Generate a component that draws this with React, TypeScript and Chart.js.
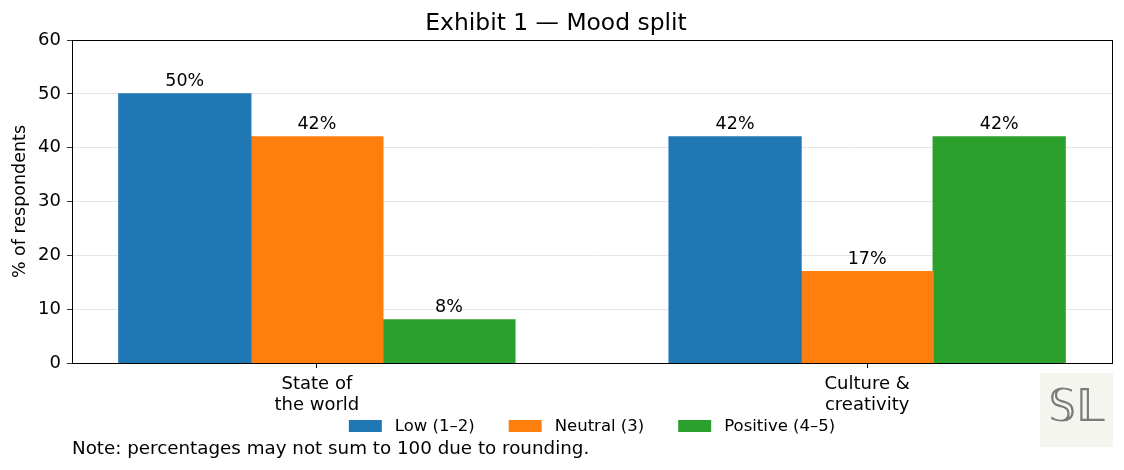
import React, { useEffect, useRef } from "react";
import { Chart, registerables } from "chart.js";

Chart.register(...registerables);

const categories: string[][] = [["State of", "the world"], ["Culture &", "creativity"]];
const seriesNames = ["Low (1–2)", "Neutral (3)", "Positive (4–5)"];
const seriesColors = ["#1f77b4", "#ff7f0e", "#2ca02c"];
const lowValues = [50, 42];
const neutralValues = [42, 17];
const positiveValues = [8, 42];
const yTicks = [0, 10, 20, 30, 40, 50, 60];
const titleText = "Exhibit 1 — Mood split";
const yTitle = "% of respondents";
const noteText = "Note: percentages may not sum to 100 due to rounding.";
const logoText = "𝕊𝕃";

const FONT = "'DejaVu Sans', sans-serif";

const frameAndLabels = {
  id: "frameAndLabels",
  afterDatasetsDraw(chart: any) {
    const ctx = chart.ctx;
    const a = chart.chartArea;
    ctx.save();
    ctx.font = `17.5px ${FONT}`;
    ctx.fillStyle = "#000";
    ctx.textAlign = "center";
    ctx.textBaseline = "alphabetic";
    chart.data.datasets.forEach((ds: any, di: number) => {
      const meta = chart.getDatasetMeta(di);
      meta.data.forEach((el: any, i: number) => {
        const v = ds.data[i].y;
        ctx.fillText(`${v}%`, el.x, el.y - 8);
      });
    });
    ctx.strokeStyle = "#000";
    ctx.lineWidth = 1;
    ctx.strokeRect(Math.round(a.left) + 0.5, Math.round(a.top) + 0.5, Math.round(a.right - a.left), Math.round(a.bottom - a.top));
    ctx.restore();
  },
  afterDraw(chart: any) {
    const ctx = chart.ctx;
    const a = chart.chartArea;
    ctx.save();
    ctx.font = `16.5px ${FONT}`;
    const boxW = 33, boxH = 12, gap = 13, spacing = 34;
    const widths = seriesNames.map((n) => boxW + gap + ctx.measureText(n).width);
    const total = widths.reduce((s, w) => s + w, 0) + spacing * (seriesNames.length - 1);
    let x = (a.left + a.right) / 2 - total / 2;
    const cy = 426;
    seriesNames.forEach((n, i) => {
      ctx.fillStyle = seriesColors[i];
      ctx.fillRect(x, cy - boxH / 2, boxW, boxH);
      ctx.fillStyle = "#000";
      ctx.textAlign = "left";
      ctx.textBaseline = "middle";
      ctx.fillText(n, x + boxW + gap, cy + 1);
      x += widths[i] + spacing;
    });
    ctx.font = `18.3px ${FONT}`;
    ctx.textBaseline = "alphabetic";
    ctx.fillText(noteText, a.left, 454);
    ctx.fillStyle = "#f5f5f0";
    ctx.fillRect(1040, 373, 73, 74);
    ctx.fillStyle = "#7a7a7a";
    ctx.font = `44px ${FONT}`;
    ctx.textAlign = "center";
    ctx.textBaseline = "middle";
    ctx.fillText(logoText, 1076.5, 410);
    ctx.restore();
  },
};

export default function App() {
  const ref = useRef<HTMLCanvasElement | null>(null);
  useEffect(() => {
    if (!ref.current) return;
    const mk = (vals: number[]) => vals.map((y, i) => ({ x: i, y }));
    const chart = new Chart(ref.current, {
      type: "bar",
      data: {
        datasets: [lowValues, neutralValues, positiveValues].map((vals, i) => ({
          label: seriesNames[i],
          data: mk(vals),
          backgroundColor: seriesColors[i],
          borderWidth: 0,
          inflateAmount: 0.6,
          categoryPercentage: 0.72,
          barPercentage: 1.0,
        })),
      },
      options: {
        animation: false,
        responsive: true,
        maintainAspectRatio: false,
        layout: { padding: { left: 0, right: 12, top: 0, bottom: 0 } },
        plugins: {
          legend: { display: false },
          tooltip: { enabled: false },
          title: {
            display: true,
            text: titleText,
            color: "#000",
            font: { family: FONT, size: 23.4, weight: "normal", lineHeight: 1.2 },
            padding: { top: 10, bottom: 2 },
          },
        },
        scales: {
          x: {
            type: "linear",
            offset: false,
            min: -0.445,
            max: 1.445,
            afterBuildTicks: (s: any) => {
              s.ticks = categories.map((_, i) => ({ value: i }));
            },
            afterFit: (s: any) => {
              s.height = 107;
            },
            ticks: {
              color: "#000",
              font: { family: FONT, size: 18, lineHeight: 1.15 },
              padding: 6,
              maxRotation: 0,
              autoSkip: false,
              callback: (v: any) => categories[v as number] ?? "",
            },
            grid: { offset: false, drawOnChartArea: false, drawTicks: true, tickLength: 5, tickColor: "#000" },
            border: { display: true, color: "#000" },
          },
          y: {
            type: "linear",
            min: yTicks[0],
            max: yTicks[yTicks.length - 1],
            afterBuildTicks: (s: any) => {
              s.ticks = yTicks.map((v) => ({ value: v }));
            },
            afterFit: (s: any) => {
              s.width = 72;
            },
            ticks: {
              color: "#000",
              font: { family: FONT, size: 18 },
              padding: 6,
            },
            title: {
              display: true,
              text: yTitle,
              color: "#000",
              font: { family: FONT, size: 17.5, lineHeight: 1.2 },
              padding: { top: 10, bottom: 0 },
            },
            grid: { color: "#e0e0e0", lineWidth: 0.8, tickLength: 5, tickColor: "#000" },
            border: { display: true, color: "#000" },
          },
        },
      },
      plugins: [frameAndLabels],
    });
    return () => chart.destroy();
  }, []);
  return (
    <div style={{ position: "fixed", left: 0, top: 0, width: 1124, height: 470, background: "#fff" }}>
      <canvas ref={ref} />
    </div>
  );
}
